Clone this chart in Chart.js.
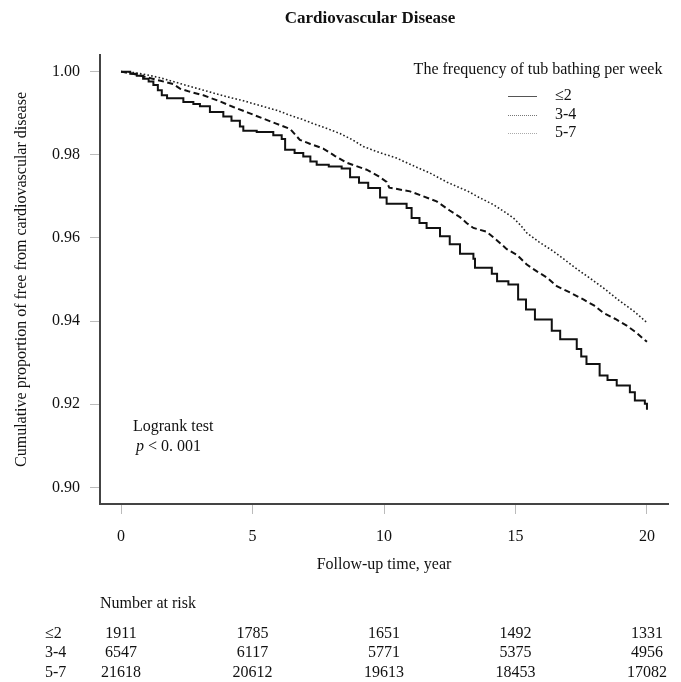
<!DOCTYPE html>
<html>
<head>
<meta charset="utf-8">
<script src="https://cdn.jsdelivr.net/npm/chart.js@4"></script>
<style>
  html, body { margin: 0; padding: 0; background: #fff; }
  #wrap { width: 681px; height: 682px; }
</style>
</head>
<body>
<div id="wrap"><canvas id="km"></canvas></div>
<script>
const groups = ['≤2', '3-4', '5-7'];

// Kaplan-Meier steps (time in years, proportion event-free)
const timeLe2 = [0, 0.35, 0.6, 0.84, 1.05, 1.23, 1.4, 1.55, 1.75, 2.37, 2.75, 3.0, 3.38, 3.89, 4.2, 4.52, 4.65, 5.16, 5.79, 6.11,
  6.24, 6.6, 6.93, 7.2, 7.44, 7.9, 8.39, 8.71, 9.05, 9.4, 9.85, 10.1, 10.86, 11.05, 11.35, 11.62, 12.13, 12.5, 12.89, 13.4,
  13.46, 14.1, 14.3, 14.73, 15.1, 15.4, 15.74, 16.38, 16.7, 17.33, 17.5, 17.7, 18.2, 18.5, 18.85, 19.35, 19.54, 19.92, 20.0];
const survLe2 = [1.0, 0.9995, 0.999, 0.9983, 0.9976, 0.9968, 0.9955, 0.9943, 0.9936, 0.9927, 0.9922, 0.9917, 0.9903, 0.9892, 0.9882, 0.9868, 0.9858, 0.9855, 0.9847, 0.9838,
  0.9812, 0.9804, 0.9796, 0.9784, 0.9776, 0.9772, 0.9767, 0.9746, 0.9733, 0.972, 0.9697, 0.9682, 0.9672, 0.9648, 0.9636, 0.9624, 0.9604, 0.9585, 0.9562, 0.955,
  0.9528, 0.9514, 0.9496, 0.9488, 0.9452, 0.9428, 0.9404, 0.9377, 0.9356, 0.9333, 0.9315, 0.9297, 0.9269, 0.9258, 0.9245, 0.9229, 0.9209, 0.9201, 0.9187];

const time34 = [0, 0.6, 1.0, 1.5, 1.99, 2.24, 2.6, 3.13, 3.7, 4.27, 4.8, 5.41, 5.9, 6.43, 6.8, 7.2, 7.69, 8.14, 8.58, 9.34,
  9.8, 10.1, 10.2, 10.99, 11.5, 12.0, 12.5, 12.89, 13.14, 13.4, 13.9, 14.3, 14.67, 15.04, 15.43, 15.8, 16.19, 16.57, 17.1, 17.58,
  18.0, 18.34, 18.8, 19.23, 19.6, 20.0];
const surv34 = [1.0, 0.9993, 0.9986, 0.9978, 0.997, 0.9959, 0.9952, 0.9943, 0.993, 0.9915, 0.9902, 0.9887, 0.9875, 0.9862, 0.9836, 0.9826, 0.9815, 0.9797, 0.9781, 0.9764,
  0.9748, 0.9735, 0.9721, 0.9712, 0.97, 0.9688, 0.9666, 0.965, 0.9636, 0.9624, 0.9615, 0.9594, 0.9573, 0.956, 0.9536, 0.952, 0.9505, 0.9484, 0.9468, 0.9452,
  0.9437, 0.942, 0.9405, 0.9389, 0.9372, 0.935];

const time57 = [0, 0.45, 0.85, 1.5, 2.1, 2.7, 3.38, 4.0, 4.65, 5.3, 5.92, 6.43, 6.9, 7.31, 7.8, 8.33, 8.8, 9.21, 9.8, 10.48,
  11.1, 11.75, 12.4, 13.2, 13.6, 14.16, 14.6, 14.92, 15.2, 15.43, 15.9, 16.44, 16.9, 17.45, 17.9, 18.34, 18.97, 19.5, 19.99];
const surv57 = [1.0, 0.9998, 0.9994, 0.9985, 0.9974, 0.9963, 0.9951, 0.994, 0.993, 0.9918, 0.9907, 0.9895, 0.9885, 0.9875, 0.9864, 0.9851, 0.9836, 0.982, 0.9806, 0.9792,
  0.9774, 0.9756, 0.9734, 0.9712, 0.9698, 0.968, 0.9662, 0.9648, 0.963, 0.9612, 0.959, 0.9568, 0.9546, 0.952, 0.95, 0.948, 0.9448, 0.9424, 0.9397];

const xTicks = [0, 5, 10, 15, 20];
const yTicks = [0.90, 0.92, 0.94, 0.96, 0.98, 1.00];

const riskLe2 = [1911, 1785, 1651, 1492, 1331];
const risk34 = [6547, 6117, 5771, 5375, 4956];
const risk57 = [21618, 20612, 19613, 18453, 17082];

const serif = '"Liberation Serif", "Times New Roman", serif';
const toPoints = (ts, ss) => ts.map((t, i) => ({ x: t, y: ss[i] }));

const extras = {
  id: 'extras',
  afterDraw(chart) {
    const ctx = chart.ctx;
    const xs = chart.scales.x;
    ctx.save();
    ctx.fillStyle = '#111';
    ctx.textBaseline = 'middle';

    // title
    ctx.font = 'bold 17px ' + serif;
    ctx.textAlign = 'center';
    ctx.fillText('Cardiovascular Disease', 370, 19);

    // legend
    ctx.font = '16px ' + serif;
    ctx.fillText('The frequency of tub bathing per week', 538, 70);
    const legendRows = [96, 115, 133];
    const legendDash = [[], [1, 1], [1, 1]];
    const legendColor = ['#555', '#777', '#aaa'];
    groups.forEach((g, i) => {
      ctx.beginPath();
      ctx.setLineDash(legendDash[i]);
      ctx.strokeStyle = legendColor[i];
      ctx.lineWidth = 1;
      ctx.moveTo(508, legendRows[i] + 0.5);
      ctx.lineTo(537, legendRows[i] + 0.5);
      ctx.stroke();
      ctx.textAlign = 'left';
      ctx.fillText(g, 555, legendRows[i]);
    });
    ctx.setLineDash([]);

    // logrank annotation
    ctx.textAlign = 'left';
    ctx.fillText('Logrank test', 133, 427);
    ctx.font = 'italic 16px ' + serif;
    ctx.fillText('p', 136, 447);
    ctx.font = '16px ' + serif;
    ctx.fillText('< 0. 001', 148, 447);

    // number at risk
    ctx.fillText('Number at risk', 100, 604);
    const rows = [riskLe2, risk34, risk57];
    const rowY = [634, 653, 673];
    rows.forEach((r, i) => {
      ctx.textAlign = 'left';
      ctx.fillText(groups[i], 45, rowY[i]);
      ctx.textAlign = 'center';
      r.forEach((n, j) => ctx.fillText(String(n), xs.getPixelForValue(xTicks[j]), rowY[i]));
    });
    ctx.restore();
  }
};

new Chart(document.getElementById('km'), {
  type: 'line',
  data: {
    datasets: [
      { label: groups[0], data: toPoints(timeLe2, survLe2), borderColor: '#111', borderWidth: 2, stepped: 'before' },
      { label: groups[1], data: toPoints(time34, surv34), borderColor: '#111', borderWidth: 2, borderDash: [6, 3.5] },
      { label: groups[2], data: toPoints(time57, surv57), borderColor: '#222', borderWidth: 1.6, borderDash: [1.6, 2.2] }
    ]
  },
  options: {
    responsive: true,
    maintainAspectRatio: false,
    animation: false,
    layout: { padding: { top: 55, right: 13, bottom: 102, left: 0 } },
    elements: { point: { radius: 0 }, line: { tension: 0 } },
    plugins: { legend: { display: false }, tooltip: { enabled: false } },
    scales: {
      x: {
        type: 'linear',
        min: -0.8,
        max: 20.8,
        afterBuildTicks: s => { s.ticks = xTicks.map(v => ({ value: v })); },
        afterFit: s => { s.height = 76; },
        ticks: { font: { family: serif, size: 16 }, color: '#111', padding: 13, maxRotation: 0 },
        grid: { drawOnChartArea: false, tickLength: 10, color: '#bbb' },
        border: { color: '#444', width: 2 },
        title: { display: true, text: 'Follow-up time, year', font: { family: serif, size: 16 }, color: '#111', padding: { top: 0, bottom: 6 } }
      },
      y: {
        min: 0.896,
        max: 1.004,
        afterBuildTicks: s => { s.ticks = yTicks.map(v => ({ value: v })); },
        afterFit: s => { s.width = 100; },
        ticks: { font: { family: serif, size: 16 }, color: '#111', padding: 10, callback: v => v.toFixed(2) },
        grid: { drawOnChartArea: false, tickLength: 10, color: '#bbb' },
        border: { color: '#444', width: 2 },
        title: { display: true, text: 'Cumulative proportion of free from cardiovascular disease', font: { family: serif, size: 16 }, color: '#111', padding: { top: 12, bottom: 0 } }
      }
    }
  },
  plugins: [extras]
});
</script>
</body>
</html>
